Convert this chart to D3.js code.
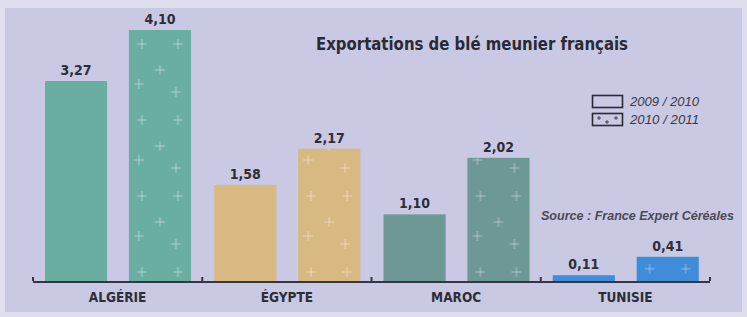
<!DOCTYPE html>
<html>
<head>
<meta charset="utf-8">
<script src="https://cdn.jsdelivr.net/npm/d3@7/dist/d3.min.js"></script>
<style>
  html, body { margin: 0; padding: 0; background: #dedef0; }
  svg { display: block; }
  .cond { font-family: "Liberation Sans Narrow", "DejaVu Sans Condensed", "Roboto", sans-serif; }
</style>
</head>
<body>
<svg id="chart" width="747" height="317"></svg>
<script>
// ---- data ----
const categories = ["ALGÉRIE", "ÉGYPTE", "MAROC", "TUNISIE"];
const seasons = ["2009 / 2010", "2010 / 2011"];
const v2009 = [3.27, 1.58, 1.10, 0.11];
const v2011 = [4.10, 2.17, 2.02, 0.41];
const colors = ["#6aaea2", "#d9b982", "#6d9896", "#3f8cd8"];

const fmt = (v) => d3.format(".2f")(v).replace(".", ",");

const svg = d3.select("#chart");
const W = 747, H = 317;

// panel
svg.append("rect").attr("x", 0).attr("y", 0).attr("width", W).attr("height", H).attr("fill", "#dfdff0");
svg.append("rect").attr("x", 5).attr("y", 8).attr("width", 737).attr("height", 304).attr("fill", "#c9c9e3");

const baseY = 282;
const x = d3.scaleBand().domain(categories).range([33, 710]);
const x1 = d3.scaleBand().domain(seasons).range([12, 158]).paddingInner(0.26);
const y = d3.scaleLinear().domain([0, 4.10]).range([baseY, 30]);

const rows = categories.map((c, i) => [
  { c, i, s: seasons[0], v: v2009[i], col: colors[i], pat: false },
  { c, i, s: seasons[1], v: v2011[i], col: colors[i], pat: true },
]).flat();
const bx = (d) => x(d.c) + x1(d.s);

// cross pattern for the second season, one per bar so it lines up with the bar edge
const defs = svg.append("defs");
const crossAt = [[13, 14], [49, 14], [31, 40], [10, 54], [47, 62]];
const pats = defs.selectAll("pattern").data(rows.filter((d) => d.pat)).join("pattern")
  .attr("id", (d) => "cross" + d.i).attr("patternUnits", "userSpaceOnUse")
  .attr("x", bx).attr("y", (d) => d.i === 3 ? y(d.v) - 2 : 30)
  .attr("width", 62).attr("height", 76);
pats.selectAll("path").data(crossAt).join("path")
  .attr("d", ([cx, cy]) => `M${cx - 5},${cy}h10M${cx},${cy - 5}v10`)
  .attr("stroke", "#ffffff").attr("stroke-opacity", 0.4).attr("stroke-width", 1);

const g = svg.append("g");
g.selectAll("rect.bar").data(rows).join("rect").attr("class", "bar")
  .attr("x", bx).attr("y", (d) => y(d.v)).attr("width", x1.bandwidth())
  .attr("height", (d) => baseY - y(d.v)).attr("fill", (d) => d.col);
g.selectAll("rect.pat").data(rows.filter((d) => d.pat)).join("rect").attr("class", "pat")
  .attr("x", bx).attr("y", (d) => y(d.v)).attr("width", x1.bandwidth())
  .attr("height", (d) => baseY - y(d.v)).attr("fill", (d) => `url(#cross${d.i})`);
g.selectAll("text").data(rows).join("text").attr("class", "cond")
  .attr("x", (d) => bx(d) + x1.bandwidth() / 2).attr("y", (d) => y(d.v) - 6)
  .attr("text-anchor", "middle").attr("font-weight", "bold").attr("font-size", 14).attr("fill", "#2e2e3a")
  .text((d) => fmt(d.v));

// axis with upturned ticks at group boundaries
const axis = svg.append("g").attr("fill", "none").attr("stroke", "#353545").attr("stroke-width", 2);
axis.append("line").attr("x1", x.range()[0]).attr("x2", x.range()[1]).attr("y1", baseY).attr("y2", baseY);
const bounds = categories.map((c) => x(c)).concat([x.range()[1]]);
axis.selectAll("path").data(bounds).join("path")
  .attr("d", (b) => `M${b},${baseY - 5}L${b},${baseY - 1}`);

svg.append("g").selectAll("text").data(categories).join("text").attr("class", "cond")
  .attr("x", (c) => x(c) + x.bandwidth() / 2).attr("y", 302).attr("text-anchor", "middle")
  .attr("font-weight", "bold").attr("font-size", 13.5).attr("fill", "#2e2e3a").text((c) => c);

// title
svg.append("text").attr("class", "cond").attr("x", 316).attr("y", 50)
  .attr("font-weight", "bold").attr("font-size", 18).attr("fill", "#2a2a36")
  .attr("textLength", 312).attr("lengthAdjust", "spacingAndGlyphs")
  .text("Exportations de blé meunier français");

// legend
const lg = svg.append("g").attr("transform", "translate(592,95)");
seasons.forEach((s, i) => {
  const row = lg.append("g").attr("transform", `translate(0,${i * 18})`);
  row.append("rect").attr("x", 0.5).attr("y", 0.5).attr("width", 30).attr("height", 12)
    .attr("fill", "none").attr("stroke", "#2a2a36").attr("stroke-width", 1.6);
  if (i === 1) {
    for (const [cx, cy] of [[7, 5], [15, 9], [24, 5]]) {
      row.append("path").attr("d", `M${cx - 2},${cy}h4M${cx},${cy - 2}v4`).attr("stroke", "#2a2a36").attr("stroke-width", 0.8);
    }
  }
  row.append("text").attr("x", 38).attr("y", 11).attr("font-family", "Liberation Sans, Arial, sans-serif")
    .attr("font-style", "italic").attr("font-size", 12.5).attr("fill", "#3a3a46")
    .attr("textLength", 69).attr("lengthAdjust", "spacingAndGlyphs").text(s);
});

// source
svg.append("text").attr("x", 541).attr("y", 220).attr("font-family", "Liberation Sans, Arial, sans-serif")
  .attr("font-style", "italic").attr("font-weight", "bold").attr("font-size", 12).attr("fill", "#4a4a58")
  .attr("textLength", 193).attr("lengthAdjust", "spacingAndGlyphs")
  .text("Source : France Expert Céréales");
</script>
</body>
</html>
